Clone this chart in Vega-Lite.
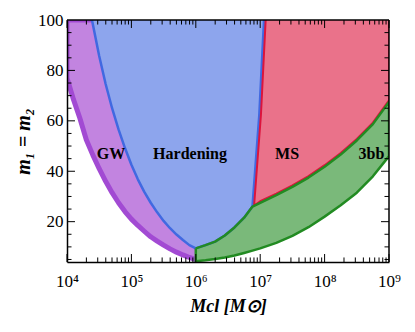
{
  "$schema": "https://vega.github.io/schema/vega-lite/v6.json",
  "width": 322,
  "height": 242,
  "autosize": {"type": "none"},
  "padding": {"left": 67, "top": 20, "right": 26, "bottom": 70},
  "config": {
    "font": "Liberation Serif",
    "view": {"stroke": null},
    "axis": {"grid": false, "domainColor": "black", "domainWidth": 1.5, "labelColor": "black", "titleColor": "black", "labelFlush": false, "labelOverlap": false, "labelFont": "Liberation Serif", "titleFont": "Liberation Serif"}
  },
  "datasets": {
    "outer": [
      {"M": 10000, "m": 77}, {"M": 12590, "m": 68.5}, {"M": 15850, "m": 61}, {"M": 19950, "m": 52.5},
      {"M": 25120, "m": 46.5}, {"M": 31620, "m": 41}, {"M": 39810, "m": 36}, {"M": 50120, "m": 31.5},
      {"M": 63100, "m": 27.5}, {"M": 79430, "m": 24}, {"M": 100000, "m": 21}, {"M": 125900, "m": 18.5},
      {"M": 158500, "m": 16.2}, {"M": 199500, "m": 14}, {"M": 251200, "m": 12.3}, {"M": 316200, "m": 10.7},
      {"M": 398100, "m": 9.2}, {"M": 501200, "m": 7.9}, {"M": 631000, "m": 6.8}, {"M": 794300, "m": 5.8},
      {"M": 1000000, "m": 4.9}
    ],
    "blue": [
      {"i": 0, "M": 24430, "m": 100}, {"i": 1, "M": 31620, "m": 85.7}, {"i": 2, "M": 39810, "m": 74.6},
      {"i": 3, "M": 50120, "m": 65.0}, {"i": 4, "M": 63100, "m": 56.6}, {"i": 5, "M": 79430, "m": 49.2},
      {"i": 6, "M": 100000, "m": 42.6}, {"i": 7, "M": 125900, "m": 36.8}, {"i": 8, "M": 158500, "m": 31.8},
      {"i": 9, "M": 199500, "m": 27.5}, {"i": 10, "M": 251200, "m": 23.7}, {"i": 11, "M": 316200, "m": 20.3},
      {"i": 12, "M": 398100, "m": 17.4}, {"i": 13, "M": 501200, "m": 14.9}, {"i": 14, "M": 631000, "m": 12.7},
      {"i": 15, "M": 794300, "m": 10.7}, {"i": 16, "M": 1000000, "m": 9.4}, {"i": 17, "M": 1413000, "m": 10.7},
      {"i": 18, "M": 1995000, "m": 12.1}, {"i": 19, "M": 2818000, "m": 14.5}, {"i": 20, "M": 3981000, "m": 17.7},
      {"i": 21, "M": 5623000, "m": 21.6}, {"i": 22, "M": 7586000, "m": 26}, {"i": 23, "M": 9680000, "m": 62.3},
      {"i": 24, "M": 11460000, "m": 100}
    ],
    "green": [
      {"M": 1000000, "lo": 4.3, "hi": 9.4}, {"M": 1413000, "lo": 4.7, "hi": 10.7},
      {"M": 1995000, "lo": 5.2, "hi": 12.1}, {"M": 2818000, "lo": 5.8, "hi": 14.5},
      {"M": 3981000, "lo": 6.6, "hi": 17.7}, {"M": 5623000, "lo": 7.6, "hi": 21.6},
      {"M": 7586000, "lo": 8.5, "hi": 26}, {"M": 10000000, "lo": 9.4, "hi": 27.5},
      {"M": 17780000, "lo": 11.6, "hi": 30.5}, {"M": 31620000, "lo": 14.4, "hi": 33.8},
      {"M": 56230000, "lo": 17.8, "hi": 37.5}, {"M": 100000000, "lo": 22, "hi": 41.8},
      {"M": 177800000, "lo": 26.5, "hi": 46.6}, {"M": 316200000, "lo": 31.5, "hi": 52.2},
      {"M": 562300000, "lo": 38, "hi": 58.7}, {"M": 1000000000, "lo": 46, "hi": 67.5}
    ],
    "red": [
      {"M": 7586000, "lo": 26}, {"M": 10000000, "lo": 27.5}, {"M": 17780000, "lo": 30.5},
      {"M": 31620000, "lo": 33.8}, {"M": 56230000, "lo": 37.5}, {"M": 100000000, "lo": 41.8},
      {"M": 177800000, "lo": 46.6}, {"M": 316200000, "lo": 52.2}, {"M": 562300000, "lo": 58.7},
      {"M": 1000000000, "lo": 67.5}
    ],
    "purpleEdge": [
      {"i": 0, "M": 24430, "m": 100}, {"i": 1, "M": 10000, "m": 100}, {"i": 2, "M": 10000, "m": 77},
      {"i": 3, "M": 12590, "m": 68.5}, {"i": 4, "M": 15850, "m": 61}, {"i": 5, "M": 19950, "m": 52.5},
      {"i": 6, "M": 25120, "m": 46.5}, {"i": 7, "M": 31620, "m": 41}, {"i": 8, "M": 39810, "m": 36},
      {"i": 9, "M": 50120, "m": 31.5}, {"i": 10, "M": 63100, "m": 27.5}, {"i": 11, "M": 79430, "m": 24},
      {"i": 12, "M": 100000, "m": 21}, {"i": 13, "M": 125900, "m": 18.5}, {"i": 14, "M": 158500, "m": 16.2},
      {"i": 15, "M": 199500, "m": 14}, {"i": 16, "M": 251200, "m": 12.3}, {"i": 17, "M": 316200, "m": 10.7},
      {"i": 18, "M": 398100, "m": 9.2}, {"i": 19, "M": 501200, "m": 7.9}, {"i": 20, "M": 631000, "m": 6.8},
      {"i": 21, "M": 794300, "m": 5.8}, {"i": 22, "M": 1000000, "m": 4.9}
    ],
    "redEdge": [
      {"i": 0, "M": 12150000, "m": 100}, {"i": 1, "M": 10260000, "m": 62.3}, {"i": 2, "M": 8040000, "m": 26.4},
      {"i": 3, "M": 10000000, "m": 28.1}, {"i": 4, "M": 17780000, "m": 31.1}, {"i": 5, "M": 31620000, "m": 34.4},
      {"i": 6, "M": 56230000, "m": 38.1}, {"i": 7, "M": 100000000, "m": 42.4}, {"i": 8, "M": 177800000, "m": 47.2},
      {"i": 9, "M": 316200000, "m": 52.8}, {"i": 10, "M": 562300000, "m": 59.3}, {"i": 11, "M": 1000000000, "m": 68.1},
      {"i": 12, "M": 1000000000, "m": 100}
    ],
    "greenEdge": [
      {"i": 0, "M": 1000000, "m": 9.4}, {"i": 1, "M": 1413000, "m": 10.7}, {"i": 2, "M": 1995000, "m": 12.1},
      {"i": 3, "M": 2818000, "m": 14.5}, {"i": 4, "M": 3981000, "m": 17.7}, {"i": 5, "M": 5623000, "m": 21.6},
      {"i": 6, "M": 7586000, "m": 26}, {"i": 7, "M": 10000000, "m": 27.5}, {"i": 8, "M": 17780000, "m": 30.5},
      {"i": 9, "M": 31620000, "m": 33.8}, {"i": 10, "M": 56230000, "m": 37.5}, {"i": 11, "M": 100000000, "m": 41.8},
      {"i": 12, "M": 177800000, "m": 46.6}, {"i": 13, "M": 316200000, "m": 52.2}, {"i": 14, "M": 562300000, "m": 58.7},
      {"i": 15, "M": 1000000000, "m": 67.5}, {"i": 16, "M": 1000000000, "m": 46}, {"i": 17, "M": 562300000, "m": 38},
      {"i": 18, "M": 316200000, "m": 31.5}, {"i": 19, "M": 177800000, "m": 26.5}, {"i": 20, "M": 100000000, "m": 22},
      {"i": 21, "M": 56230000, "m": 17.8}, {"i": 22, "M": 31620000, "m": 14.4}, {"i": 23, "M": 17780000, "m": 11.6},
      {"i": 24, "M": 10000000, "m": 9.4}, {"i": 25, "M": 7586000, "m": 8.5}, {"i": 26, "M": 5623000, "m": 7.6},
      {"i": 27, "M": 3981000, "m": 6.6}, {"i": 28, "M": 2818000, "m": 5.8}, {"i": 29, "M": 1995000, "m": 5.2},
      {"i": 30, "M": 1413000, "m": 4.7}, {"i": 31, "M": 1000000, "m": 4.3}, {"i": 32, "M": 1000000, "m": 9.4}
    ],
    "labels": [
      {"M": 48200, "m": 44.8, "text": "GW"},
      {"M": 813000, "m": 44.8, "text": "Hardening"},
      {"M": 26100000, "m": 44.8, "text": "MS"},
      {"M": 535000000, "m": 44.8, "text": "3bb"}
    ],
    "xmaj": [{"M": 10000}, {"M": 100000}, {"M": 1000000}, {"M": 10000000}, {"M": 100000000}, {"M": 1000000000}],
    "xmin": [
      {"M": 20000}, {"M": 30000}, {"M": 40000}, {"M": 50000}, {"M": 60000}, {"M": 70000}, {"M": 80000}, {"M": 90000},
      {"M": 200000}, {"M": 300000}, {"M": 400000}, {"M": 500000}, {"M": 600000}, {"M": 700000}, {"M": 800000}, {"M": 900000},
      {"M": 2000000}, {"M": 3000000}, {"M": 4000000}, {"M": 5000000}, {"M": 6000000}, {"M": 7000000}, {"M": 8000000}, {"M": 9000000},
      {"M": 20000000}, {"M": 30000000}, {"M": 40000000}, {"M": 50000000}, {"M": 60000000}, {"M": 70000000}, {"M": 80000000}, {"M": 90000000},
      {"M": 200000000}, {"M": 300000000}, {"M": 400000000}, {"M": 500000000}, {"M": 600000000}, {"M": 700000000}, {"M": 800000000}, {"M": 900000000}
    ],
    "ymaj": [{"m": 20}, {"m": 40}, {"m": 60}, {"m": 80}],
    "ymin": [
      {"m": 5}, {"m": 10}, {"m": 15}, {"m": 25}, {"m": 30}, {"m": 35}, {"m": 45}, {"m": 50},
      {"m": 55}, {"m": 65}, {"m": 70}, {"m": 75}, {"m": 85}, {"m": 90}, {"m": 95}
    ],
    "one": [{"k": 1}]
  },
  "layer": [
    {
      "data": {"name": "red"},
      "mark": {"type": "area", "color": "#ea728a", "clip": true},
      "encoding": {
        "x": {"field": "M", "type": "quantitative", "scale": {"type": "log", "domain": [10000, 1000000000], "nice": false},
          "axis": {"orient": "bottom", "zindex": 1, "values": [10000, 100000, 1000000, 10000000, 100000000, 1000000000], "ticks": false, "domain": true,
            "labelExpr": "'10' + ['⁰','¹','²','³','⁴','⁵','⁶','⁷','⁸','⁹'][round(log(datum.value)/LN10)]",
            "labelFontSize": 17, "labelPadding": 11, "title": "Mcl [M⊙]", "titleFontSize": 18, "titleFontWeight": "bold", "titleFontStyle": "italic", "titlePadding": 8}},
        "y": {"field": "lo", "type": "quantitative", "scale": {"domain": [4, 100], "nice": false, "zero": false},
          "axis": {"orient": "left", "zindex": 1, "values": [20, 40, 60, 80, 100], "ticks": false, "domain": true, "labelFontSize": 17, "labelPadding": 4,
            "title": "m₁ = m₂", "titleFontSize": 20, "titleFontWeight": "bold", "titleFontStyle": "italic", "titlePadding": 4}},
        "y2": {"datum": 100}
      }
    },
    {
      "data": {"name": "outer"},
      "mark": {"type": "area", "color": "#c284e0", "clip": true},
      "encoding": {"x": {"field": "M", "type": "quantitative"}, "y": {"field": "m", "type": "quantitative"}, "y2": {"datum": 100}}
    },
    {
      "data": {"name": "blue"},
      "mark": {"type": "area", "color": "#8da5ed", "clip": true},
      "encoding": {"x": {"field": "M", "type": "quantitative"}, "y": {"field": "m", "type": "quantitative"}, "y2": {"datum": 100}}
    },
    {
      "data": {"name": "green"},
      "mark": {"type": "area", "color": "#7ab97a", "clip": true},
      "encoding": {"x": {"field": "M", "type": "quantitative"}, "y": {"field": "lo", "type": "quantitative"}, "y2": {"field": "hi"}}
    },
    {
      "data": {"name": "purpleEdge"},
      "mark": {"type": "line", "color": "#a24ad3", "strokeWidth": 5, "clip": true, "strokeJoin": "round"},
      "encoding": {"x": {"field": "M", "type": "quantitative"}, "y": {"field": "m", "type": "quantitative"}, "order": {"field": "i"}}
    },
    {
      "data": {"name": "blue"},
      "mark": {"type": "line", "color": "#4169e1", "strokeWidth": 2.5, "clip": true, "strokeJoin": "round"},
      "encoding": {"x": {"field": "M", "type": "quantitative"}, "y": {"field": "m", "type": "quantitative"}, "order": {"field": "i"}}
    },
    {
      "data": {"name": "redEdge"},
      "mark": {"type": "line", "color": "#dc143c", "strokeWidth": 2, "clip": true, "strokeJoin": "round"},
      "encoding": {"x": {"field": "M", "type": "quantitative"}, "y": {"field": "m", "type": "quantitative"}, "order": {"field": "i"}}
    },
    {
      "data": {"name": "greenEdge"},
      "mark": {"type": "line", "color": "#228b22", "strokeWidth": 2.5, "clip": true, "strokeJoin": "round"},
      "encoding": {"x": {"field": "M", "type": "quantitative"}, "y": {"field": "m", "type": "quantitative"}, "order": {"field": "i"}}
    },
    {
      "data": {"name": "labels"},
      "mark": {"type": "text", "font": "Liberation Serif", "fontWeight": "bold", "fontSize": 16, "align": "center", "baseline": "alphabetic", "color": "black"},
      "encoding": {"x": {"field": "M", "type": "quantitative"}, "y": {"field": "m", "type": "quantitative"}, "text": {"field": "text"}}
    },
    {
      "data": {"name": "xmaj"},
      "mark": {"type": "rule", "color": "black", "strokeWidth": 1},
      "encoding": {"x": {"field": "M", "type": "quantitative"}, "y": {"datum": 4}, "y2": {"datum": 7.17}}
    },
    {
      "data": {"name": "xmaj"},
      "mark": {"type": "rule", "color": "black", "strokeWidth": 1},
      "encoding": {"x": {"field": "M", "type": "quantitative"}, "y": {"datum": 100}, "y2": {"datum": 96.83}}
    },
    {
      "data": {"name": "xmin"},
      "mark": {"type": "rule", "color": "black", "strokeWidth": 1},
      "encoding": {"x": {"field": "M", "type": "quantitative"}, "y": {"datum": 4}, "y2": {"datum": 5.8}}
    },
    {
      "data": {"name": "xmin"},
      "mark": {"type": "rule", "color": "black", "strokeWidth": 1},
      "encoding": {"x": {"field": "M", "type": "quantitative"}, "y": {"datum": 100}, "y2": {"datum": 98.2}}
    },
    {
      "data": {"name": "ymaj"},
      "mark": {"type": "rule", "color": "black", "strokeWidth": 1},
      "encoding": {"y": {"field": "m", "type": "quantitative"}, "x": {"datum": 10000}, "x2": {"datum": 13310}}
    },
    {
      "data": {"name": "ymaj"},
      "mark": {"type": "rule", "color": "black", "strokeWidth": 1},
      "encoding": {"y": {"field": "m", "type": "quantitative"}, "x": {"datum": 1000000000}, "x2": {"datum": 751300000}}
    },
    {
      "data": {"name": "ymin"},
      "mark": {"type": "rule", "color": "black", "strokeWidth": 1},
      "encoding": {"y": {"field": "m", "type": "quantitative"}, "x": {"datum": 10000}, "x2": {"datum": 11750}}
    },
    {
      "data": {"name": "ymin"},
      "mark": {"type": "rule", "color": "black", "strokeWidth": 1},
      "encoding": {"y": {"field": "m", "type": "quantitative"}, "x": {"datum": 1000000000}, "x2": {"datum": 851000000}}
    },
    {
      "data": {"name": "one"},
      "mark": {"type": "rule", "color": "black", "strokeWidth": 1.5},
      "encoding": {"x": {"datum": 10000}, "x2": {"datum": 1000000000}, "y": {"datum": 100}}
    },
    {
      "data": {"name": "one"},
      "mark": {"type": "rule", "color": "black", "strokeWidth": 1.5},
      "encoding": {"x": {"datum": 1000000000}, "y": {"datum": 4}, "y2": {"datum": 100}}
    }
  ]
}
